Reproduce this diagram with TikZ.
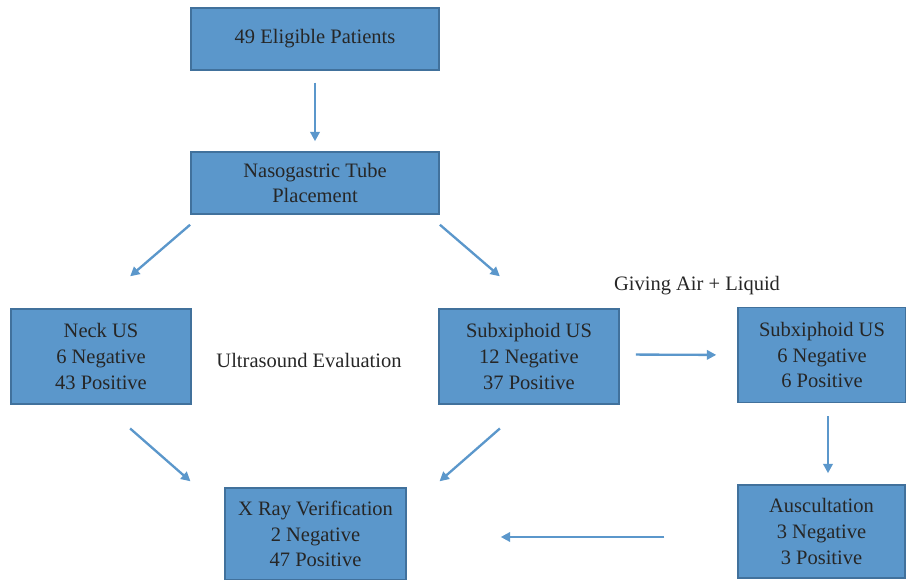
\documentclass[tikz,border=0pt]{standalone}
\usepackage{fontspec}
\setmainfont{Liberation Serif}
\usetikzlibrary{arrows.meta}
\definecolor{boxblue}{RGB}{91,151,203}
\definecolor{boxline}{RGB}{65,113,156}
\definecolor{txt}{RGB}{38,38,38}
\tikzset{
  stage/.style={draw=boxline,line width=0.45mm,fill=boxblue,text=txt,align=center,
    minimum width=54mm,minimum height=28.5mm,inner sep=0pt},
  flow/.style={draw=boxblue,line width=0.7mm,-{Triangle[length=2.8mm,width=2.8mm]}},
  note/.style={text=txt,align=center}
}
\begin{document}
\begin{tikzpicture}[x=0.3mm,y=-0.3mm,font=\fontsize{17.5}{22}\selectfont]
	\useasboundingbox (0,0) rectangle (906,580);
	\node[stage,minimum width=74.4mm,minimum height=18.6mm] (top) at (315,39) {49 Eligible Patients};
	\node[stage,minimum width=74.4mm,minimum height=18.6mm] (ng) at (315,183) {Nasogastric Tube\\Placement};
	\node[stage] (neck) at (101,356.5) {Neck US\\6 Negative\\43 Positive};
	\node[stage] (sub1) at (529,356.5) {Subxiphoid US\\12 Negative\\37 Positive};
	\node[stage,minimum width=50.4mm] (sub2) at (822,355) {Subxiphoid US\\6 Negative\\6 Positive};
	\node[stage,minimum width=50.1mm,minimum height=27.9mm] (ausc) at (821.5,531.5) {Auscultation\\3 Negative\\3 Positive};
	\node[stage,minimum width=54.3mm,minimum height=27.6mm] (xray) at (315.5,534) {X Ray Verification\\2 Negative\\47 Positive};
	\node[note] (us) at (309,360) {Ultrasound Evaluation};
	\node[note] (air) at (697,286) {Giving Air + Liquid};
	% arrows
	\draw[flow,shorten <=3.6mm,shorten >=3mm] (top) -- (ng);
	\draw[flow,shorten <=4.6mm,shorten >=14.7mm] ([shift={(11.5,0)}]ng.south west) -- ([shift={(-8,0)}]neck.north);
	\draw[flow,shorten <=4.6mm,shorten >=14.7mm] ([shift={(-11.5,0)}]ng.south east) -- ([shift={(8,0)}]sub1.north);
	\draw[flow,shorten <=10.8mm,shorten >=2.7mm] ([shift={(2,0)}]neck.south) -- ([shift={(-27,0)}]xray.north west);
	\draw[flow,shorten <=10.8mm,shorten >=2.7mm] ([shift={(-2,0)}]sub1.south) -- ([shift={(26,0)}]xray.north east);
	\draw[flow,shorten <=4.8mm,shorten >=6.3mm] ([shift={(0,-2)}]sub1.east) -- (sub2.west);
	\draw[flow,shorten <=3.9mm,shorten >=3.3mm] ([shift={(6,0)}]sub2.south) -- ([shift={(6.5,0)}]ausc.north);
	\draw[flow,shorten <=21.9mm,shorten >=28.2mm] ([shift={(0,5.5)}]ausc.west) -- ([shift={(0,3)}]xray.east);
\end{tikzpicture}
\end{document}
